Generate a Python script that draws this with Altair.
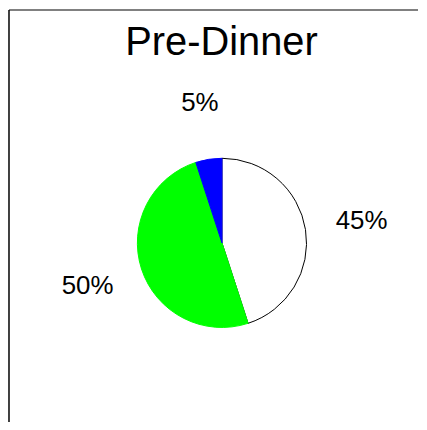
import altair as alt
import pandas as pd

categories = ["A", "B", "C"]
values = [45, 50, 5]
labels = ["45%", "50%", "5%"]
fills = ["#ffffff", "#00ff00", "#0000ff"]
strokes = ["#000000", "#00ff00", "#0000ff"]
title_text = "Pre-Dinner"

df = pd.DataFrame({"cat": categories, "value": values, "label": labels,
                   "order": list(range(len(categories)))})

W, H = 411, 414
CX, CY = 214, 234

base = alt.Chart(df).encode(
    theta=alt.Theta("value:Q", stack=True),
    order=alt.Order("order:Q"),
    x=alt.value(CX),
    y=alt.value(CY),
)

pie = base.mark_arc(outerRadius=85, strokeWidth=1).encode(
    color=alt.Color("cat:N", scale=alt.Scale(domain=categories, range=fills), legend=None),
    stroke=alt.Stroke("cat:N", scale=alt.Scale(domain=categories, range=strokes), legend=None),
)

text = base.mark_text(radius=142, fontSize=26, font="Liberation Sans", color="black").encode(
    text="label:N"
)

title = alt.Chart(pd.DataFrame({"t": [title_text]})).mark_text(
    fontSize=40, font="Liberation Sans", color="black", baseline="alphabetic", align="center"
).encode(text="t:N", x=alt.value(213.5), y=alt.value(45))

frame_df = pd.DataFrame({"k": [0]})
top_rule = alt.Chart(frame_df).mark_rule(color="#808080", strokeWidth=2).encode(
    x=alt.value(0), x2=alt.value(W), y=alt.value(0)
)
left_rule = alt.Chart(frame_df).mark_rule(color="black", strokeWidth=1.5).encode(
    x=alt.value(0), y=alt.value(0), y2=alt.value(H)
)

chart = alt.layer(pie, text, title, top_rule, left_rule).properties(
    width=W, height=H, padding=0, background="white"
).configure_view(stroke=None)

chart.save("out.html", embed_options={"renderer": "svg", "actions": False})
